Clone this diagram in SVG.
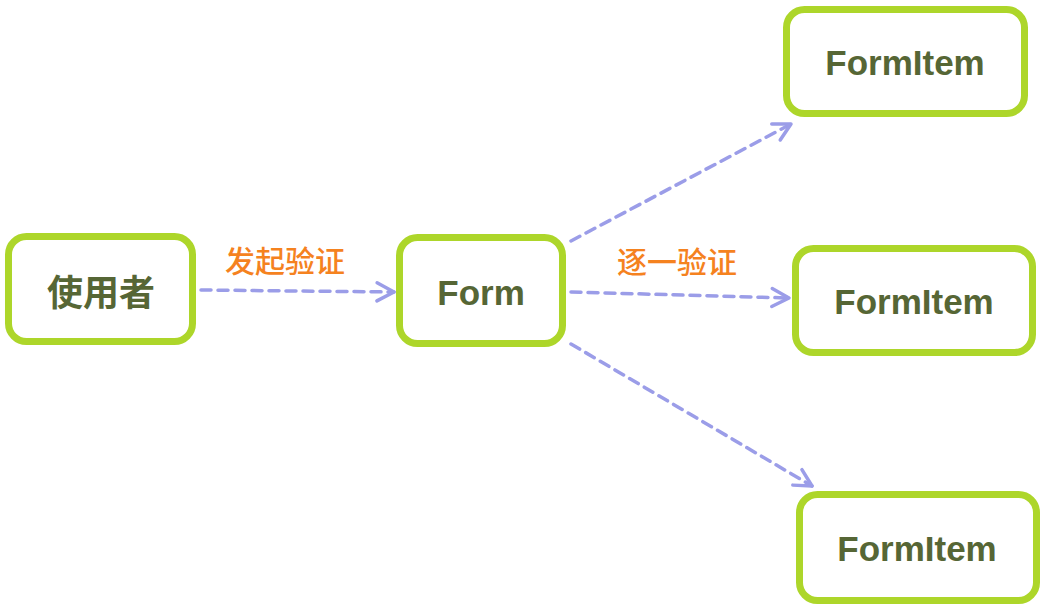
<svg xmlns="http://www.w3.org/2000/svg" width="1046" height="610" viewBox="0 0 1046 610">
<style>
.box{fill:#ffffff;stroke:#add62a;stroke-width:7}
.t{font-family:"Liberation Sans","Noto Sans CJK SC",sans-serif;font-size:35px;font-weight:bold;fill:#566635;text-anchor:middle;dominant-baseline:central}
.cjk{font-family:"Noto Sans CJK SC",sans-serif;font-size:36px;font-weight:bold}
.lbl{font-family:"Noto Sans CJK SC","Liberation Sans",sans-serif;font-size:30px;font-weight:500;fill:#f5821f;text-anchor:middle;dominant-baseline:central}
.c{fill:none;stroke:#9b9de8;stroke-width:3.5;stroke-dasharray:10 7;stroke-linecap:round}
</style>
<defs>
<marker id="ah" viewBox="0 0 24 24" refX="21" refY="12" markerWidth="24" markerHeight="24" markerUnits="userSpaceOnUse" orient="auto">
<path d="M4,3 L21,12 L4,21" fill="none" stroke="#9b9de8" stroke-width="3.5" stroke-linecap="round" stroke-linejoin="round"/>
</marker>
</defs>
<rect width="1046" height="610" fill="#ffffff"/>
<g id="connectors">
<line class="c" x1="201" y1="290" x2="394" y2="292" marker-end="url(#ah)"/>
<line class="c" x1="571" y1="241" x2="791" y2="124" marker-end="url(#ah)"/>
<line class="c" x1="571" y1="292" x2="789" y2="298" marker-end="url(#ah)"/>
<line class="c" x1="571" y1="344" x2="812" y2="486" marker-end="url(#ah)"/>
<text class="lbl" x="285" y="259">发起验证</text>
<text class="lbl" x="677" y="260">逐一验证</text>
</g>
<g id="node-user">
<rect class="box" x="8.5" y="236.5" width="184" height="105" rx="18"/>
<text class="t cjk" x="101" y="290">使用者</text>
</g>
<g id="node-form">
<rect class="box" x="399.5" y="237.5" width="163" height="106" rx="18"/>
<text class="t" x="481" y="292">Form</text>
</g>
<g id="node-formitem1">
<rect class="box" x="786.5" y="9.5" width="238" height="104" rx="18"/>
<text class="t" x="905" y="62">FormItem</text>
</g>
<g id="node-formitem2">
<rect class="box" x="795.5" y="248.5" width="237" height="104" rx="18"/>
<text class="t" x="914" y="301">FormItem</text>
</g>
<g id="node-formitem3">
<rect class="box" x="799.5" y="494.5" width="237" height="106" rx="18"/>
<text class="t" x="917" y="548">FormItem</text>
</g>
</svg>
